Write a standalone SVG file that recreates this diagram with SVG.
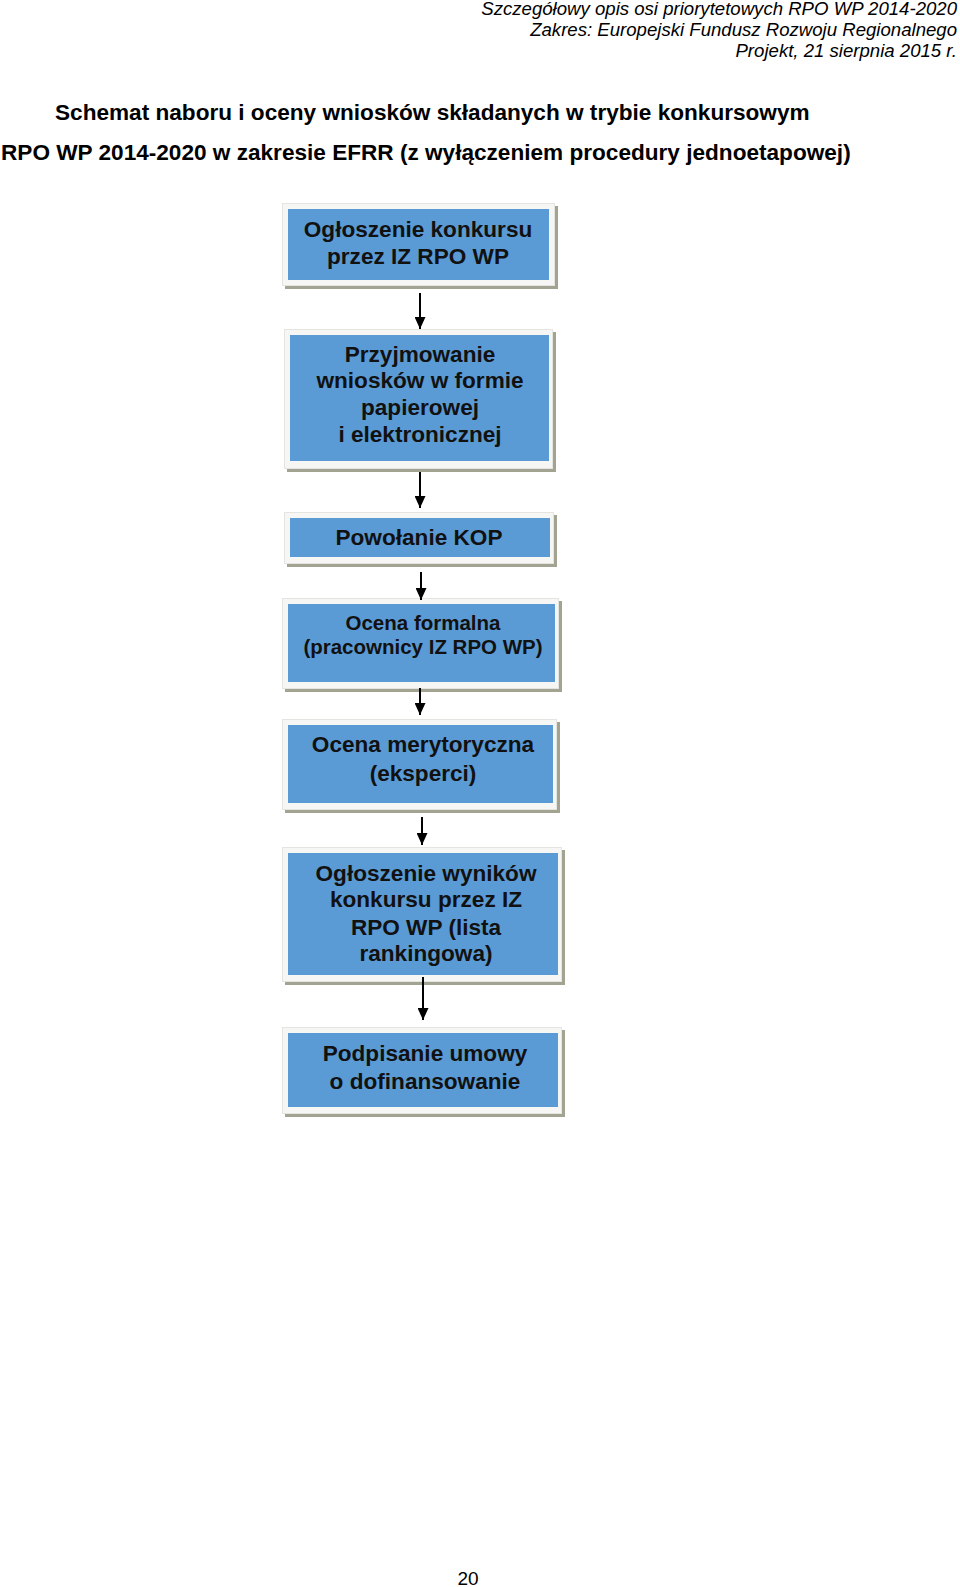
<svg xmlns="http://www.w3.org/2000/svg" width="960" height="1587" viewBox="0 0 960 1587">
<style>
.hdr{font-family:"Liberation Sans",Arial,sans-serif;font-style:italic;font-size:18.6px;fill:#000;text-anchor:end}
.ttl{font-family:"Liberation Sans",Arial,sans-serif;font-weight:bold;font-size:22.6px;fill:#000}
.lbl{font-family:"Liberation Sans",Arial,sans-serif;font-weight:bold;font-size:22.6px;fill:#111;text-anchor:middle}
.sm{font-size:20.5px}
.shadow{fill:#a3a391}
.frame{fill:#f6f6f4;stroke:#e4e4e0;stroke-width:1}
.box{fill:#5b9bd5}
.conn{stroke:#000;stroke-width:2;fill:none}
.pg{font-family:"Liberation Sans",Arial,sans-serif;font-size:19px;fill:#000;text-anchor:middle}
</style>
<defs>
<marker id="ah" viewBox="0 0 10 10" refX="10" refY="5" markerWidth="12" markerHeight="11" markerUnits="userSpaceOnUse" orient="auto" preserveAspectRatio="none">
<path d="M0,0 L10,5 L0,10 Z" fill="#000"/>
</marker>
</defs>
<rect width="960" height="1587" fill="#fff"/>
<g id="header">
<text class="hdr" x="957" y="15">Szczegółowy opis osi priorytetowych RPO WP 2014-2020</text>
<text class="hdr" x="957" y="36">Zakres: Europejski Fundusz Rozwoju Regionalnego</text>
<text class="hdr" x="957" y="57">Projekt, 21 sierpnia 2015 r.</text>
</g>
<g id="title">
<text class="ttl" x="55" y="120">Schemat naboru i oceny wniosków składanych w trybie konkursowym</text>
<text class="ttl" x="1" y="160">RPO WP 2014-2020 w zakresie EFRR (z wyłączeniem procedury jednoetapowej)</text>
</g>
<g id="n1">
<rect class="shadow" x="285" y="206" width="273" height="83"/>
<rect class="frame" x="282.5" y="203.5" width="272" height="82"/>
<rect class="box" x="288" y="209" width="261" height="71"/>
<text class="lbl" x="418" y="237">Ogłoszenie konkursu</text>
<text class="lbl" x="418" y="264">przez IZ RPO WP</text>
</g>
<g id="n2">
<rect class="shadow" x="287" y="332" width="269" height="140"/>
<rect class="frame" x="284.5" y="329.5" width="268" height="139"/>
<rect class="box" x="290" y="335" width="259" height="126"/>
<text class="lbl" x="420" y="362">Przyjmowanie</text>
<text class="lbl" x="420" y="388">wniosków w formie</text>
<text class="lbl" x="420" y="415">papierowej</text>
<text class="lbl" x="420" y="442">i elektronicznej</text>
</g>
<g id="n3">
<rect class="shadow" x="287" y="515" width="270" height="52"/>
<rect class="frame" x="284.5" y="512.5" width="269" height="51"/>
<rect class="box" x="290" y="518" width="260" height="39"/>
<text class="lbl" x="419" y="545">Powołanie KOP</text>
</g>
<g id="n4">
<rect class="shadow" x="285" y="601" width="277" height="91"/>
<rect class="frame" x="282.5" y="598.5" width="276" height="90"/>
<rect class="box" x="288" y="604" width="267" height="78"/>
<text class="lbl sm" x="423" y="630">Ocena formalna</text>
<text class="lbl sm" x="423" y="654">(pracownicy IZ RPO WP)</text>
</g>
<g id="n5">
<rect class="shadow" x="285" y="722" width="275" height="91"/>
<rect class="frame" x="282.5" y="719.5" width="274" height="90"/>
<rect class="box" x="288" y="725" width="265" height="78"/>
<text class="lbl" x="423" y="752">Ocena merytoryczna</text>
<text class="lbl" x="423" y="781">(eksperci)</text>
</g>
<g id="n6">
<rect class="shadow" x="285" y="850" width="280" height="135"/>
<rect class="frame" x="282.5" y="847.5" width="279" height="134"/>
<rect class="box" x="288" y="853" width="270" height="122"/>
<text class="lbl" x="426" y="881">Ogłoszenie wyników</text>
<text class="lbl" x="426" y="907">konkursu przez IZ</text>
<text class="lbl" x="426" y="935">RPO WP (lista</text>
<text class="lbl" x="426" y="961">rankingowa)</text>
</g>
<g id="n7">
<rect class="shadow" x="285" y="1030" width="280" height="87"/>
<rect class="frame" x="282.5" y="1027.5" width="279" height="86"/>
<rect class="box" x="288" y="1033" width="270" height="74"/>
<text class="lbl" x="425" y="1061">Podpisanie umowy</text>
<text class="lbl" x="425" y="1089">o dofinansowanie</text>
</g>
<g id="connectors">
<line class="conn" x1="420" y1="293" x2="420" y2="329" marker-end="url(#ah)"/>
<line class="conn" x1="420" y1="472" x2="420" y2="508" marker-end="url(#ah)"/>
<line class="conn" x1="421" y1="572" x2="421" y2="600" marker-end="url(#ah)"/>
<line class="conn" x1="420" y1="688" x2="420" y2="715" marker-end="url(#ah)"/>
<line class="conn" x1="422" y1="817" x2="422" y2="845" marker-end="url(#ah)"/>
<line class="conn" x1="423" y1="977" x2="423" y2="1020" marker-end="url(#ah)"/>
</g>
<text class="pg" x="468" y="1585">20</text>
</svg>
